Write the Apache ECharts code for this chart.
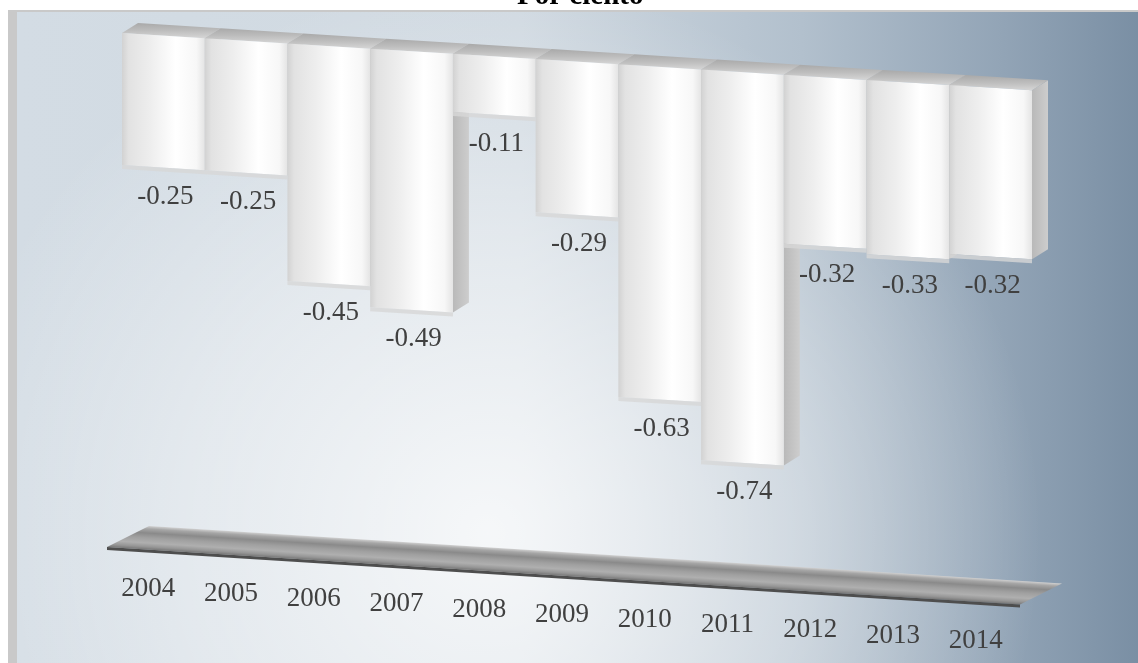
<!DOCTYPE html>
<html>
<head>
<meta charset="utf-8">
<script src="https://cdn.jsdelivr.net/npm/echarts@6/dist/echarts.min.js"></script>
<style>
  html, body { margin: 0; padding: 0; background: #ffffff; }
  #chart { width: 1138px; height: 663px; }
</style>
</head>
<body>
<div id="chart"></div>
<script>
// Data
const titleText = 'Por ciento';
const years = ['2004', '2005', '2006', '2007', '2008', '2009', '2010', '2011', '2012', '2013', '2014'];
const values = [-0.25, -0.25, -0.45, -0.49, -0.11, -0.29, -0.63, -0.74, -0.32, -0.33, -0.32];
const yMin = -1;
const yMax = 0;

// Pseudo-3D look: the whole plane tilts down to the right, bars have depth
const SLOPE = 0.063;
const DEPTH = [16, -10];
const SERIF = '"Liberation Serif", "Times New Roman", serif';
const TEXT_COLOR = '#404040';

function shearer(api) {
  const bw = api.size([1, 0])[0];
  const left0 = api.coord([0, 0])[0] - bw / 2;
  return {
    bw: bw,
    sh: function (x, y) { return [x, y + (x - left0) * SLOPE]; }
  };
}
function offset(p, d) { return [p[0] + d[0], p[1] + d[1]]; }

function renderBar(params, api) {
  const i = api.value(0);
  const v = api.value(1);
  const s = shearer(api);
  const c0 = api.coord([i, 0]);
  const c1 = api.coord([i, v]);
  const L = c0[0] - s.bw / 2;
  const R = c0[0] + s.bw / 2;
  const TL = s.sh(L, c0[1]), TR = s.sh(R, c0[1]);
  const BR = s.sh(R, c1[1]), BL = s.sh(L, c1[1]);
  const lab = s.sh(c0[0], c1[1]);

  return {
    type: 'group',
    children: [
      {
        type: 'polygon',
        shape: { points: [TR, offset(TR, DEPTH), offset(BR, DEPTH), BR] },
        style: {
          fill: new echarts.graphic.LinearGradient(0, 0, 1, 0, [
            { offset: 0, color: '#b9b9b9' },
            { offset: 1, color: '#cdcdcd' }
          ])
        }
      },
      {
        type: 'polygon',
        shape: { points: [TL, TR, offset(TR, DEPTH), offset(TL, DEPTH)] },
        style: {
          fill: new echarts.graphic.LinearGradient(0, 0, 0, 1, [
            { offset: 0, color: '#a9a9a9' },
            { offset: 0.5, color: '#bdbdbd' },
            { offset: 1, color: '#d6d6d6' }
          ])
        }
      },
      {
        type: 'polygon',
        shape: { points: [TL, TR, BR, BL] },
        style: {
          fill: new echarts.graphic.LinearGradient(0, 0, 1, 0, [
            { offset: 0, color: '#d2d2d2' },
            { offset: 0.08, color: '#e2e2e2' },
            { offset: 0.35, color: '#eeeeee' },
            { offset: 0.65, color: '#ffffff' },
            { offset: 0.9, color: '#f7f7f7' },
            { offset: 1, color: '#e4e4e4' }
          ])
        }
      },
      {
        type: 'polygon',
        shape: { points: [BL, BR, offset(BR, [0, 4]), offset(BL, [0, 4])] },
        style: { fill: 'rgba(215,215,215,0.8)' }
      },
      {
        type: 'text',
        x: lab[0] + 2,
        y: lab[1] + 29,
        style: {
          text: v.toFixed(2),
          fill: TEXT_COLOR,
          font: '27px ' + SERIF,
          align: 'center',
          verticalAlign: 'middle'
        }
      }
    ]
  };
}

function renderFloor(params, api) {
  const s = shearer(api);
  const n = years.length;
  const a = api.coord([0, yMin]);
  const b = api.coord([n - 1, yMin]);
  const xl = a[0] - s.bw / 2 - 15;
  const xr = b[0] + s.bw / 2 - 12;
  const FL = offset(s.sh(xl, a[1]), [0, -13]);
  const FR = offset(s.sh(xr, a[1]), [0, -13]);
  const back = [42, -21];
  const BL = offset(FL, back), BR = offset(FR, back);
  // gradient runs across the slab, perpendicular to its edges
  const xm = (xl + xr) / 2;
  const yFront = s.sh(xm, a[1])[1] - 13;
  const yBack = yFront - 21 - 42 * SLOPE;
  const gap = yFront - yBack;
  const k = gap / (1 + SLOPE * SLOPE);
  const grad = new echarts.graphic.LinearGradient(xm, yBack, xm - SLOPE * k, yBack + k, [
    { offset: 0, color: '#cfcfcf' },
    { offset: 0.12, color: '#a6a6a6' },
    { offset: 0.3, color: '#8a8a8a' },
    { offset: 0.5, color: '#a0a0a0' },
    { offset: 0.72, color: '#afafaf' },
    { offset: 0.88, color: '#969696' },
    { offset: 1, color: '#767676' }
  ], true);
  return {
    type: 'group',
    children: [
      {
        type: 'polygon',
        shape: { points: [FL, FR, BR, BL] },
        style: { fill: grad }
      },
      {
        type: 'polygon',
        shape: { points: [FL, FR, offset(FR, [0, 3]), offset(FL, [0, 3])] },
        style: { fill: '#4e4e4e' }
      }
    ]
  };
}

function renderYear(params, api) {
  const i = api.value(0);
  const s = shearer(api);
  const c = api.coord([i, yMin]);
  const p = s.sh(c[0] - 15, c[1]);
  return {
    type: 'text',
    x: p[0],
    y: p[1] + 26,
    style: {
      text: years[i],
      fill: TEXT_COLOR,
      font: '27px ' + SERIF,
      align: 'center',
      verticalAlign: 'middle'
    }
  };
}

const chart = echarts.init(document.getElementById('chart'), null, { renderer: 'canvas' });

chart.setOption({
  animation: false,
  backgroundColor: '#ffffff',
  title: {
    text: titleText,
    left: 517,
    top: -18,
    padding: 0,
    textStyle: { fontFamily: SERIF, fontWeight: 'bold', fontSize: 29, color: '#000000' }
  },
  graphic: [
    {
      type: 'rect', z: 0, silent: true,
      shape: { x: 8, y: 10, width: 1130, height: 653 },
      style: { fill: '#c9c9c9' }
    },
    {
      type: 'rect', z: 0, silent: true,
      shape: { x: 17, y: 12, width: 1121, height: 651 },
      style: {
        fill: new echarts.graphic.LinearGradient(0, 0, 1, 0, [
          { offset: 0, color: '#d3dce4' },
          { offset: 0.45, color: '#d0d9e1' },
          { offset: 0.7, color: '#b2c0cd' },
          { offset: 0.88, color: '#92a4b6' },
          { offset: 1, color: '#7a8fa4' }
        ])
      }
    },
    {
      type: 'rect', z: 0, silent: true,
      shape: { x: 17, y: 12, width: 1121, height: 651 },
      style: {
        fill: new echarts.graphic.RadialGradient(0.42, 0.8, 0.85, [
          { offset: 0, color: 'rgba(255,255,255,0.8)' },
          { offset: 0.55, color: 'rgba(255,255,255,0.4)' },
          { offset: 1, color: 'rgba(255,255,255,0)' }
        ])
      }
    }
  ],
  grid: { left: 122, width: 910, top: 33, height: 528, containLabel: false },
  xAxis: {
    type: 'category',
    data: years,
    show: false
  },
  yAxis: {
    type: 'value',
    min: yMin,
    max: yMax,
    show: false
  },
  series: [
    {
      name: 'floor',
      type: 'custom',
      renderItem: renderFloor,
      data: [[0, yMin]],
      silent: true,
      z: 2
    },
    {
      name: 'Por ciento',
      type: 'custom',
      renderItem: renderBar,
      data: values.map(function (v, i) { return [i, v]; }),
      z: 3
    },
    {
      name: 'years',
      type: 'custom',
      renderItem: renderYear,
      data: years.map(function (y, i) { return [i, yMin]; }),
      silent: true,
      z: 3
    }
  ]
});
</script>
</body>
</html>
